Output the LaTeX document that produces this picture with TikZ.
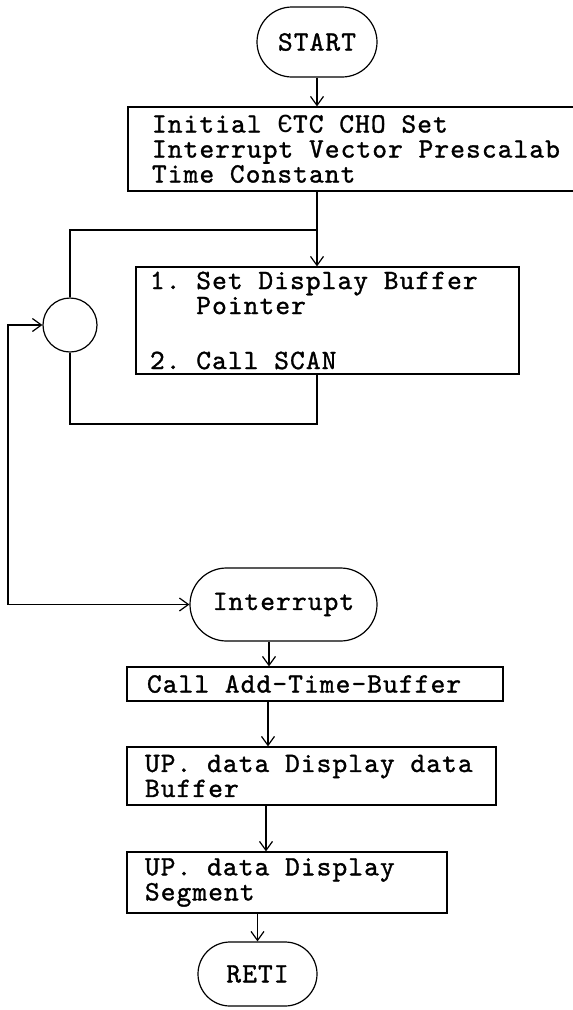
\documentclass[tikz,border=0pt]{standalone}
\usepackage{fontspec}
\newfontfamily\tw{Liberation Mono}
\newfontfamily\lmtw{lmmono10-regular.otf}[LetterSpace=4,FakeBold=1.2]
\newcommand{\typew}{\fontsize{28}{25}\selectfont\lmtw}
\newcommand{\sk}{\spaceskip=15.8pt plus 0pt minus 0pt\xspaceskip=15.8pt plus 0pt minus 0pt\relax}
\newcommand{\txl}[1]{\mbox{\sk #1}}
\usetikzlibrary{arrows.meta,shapes.misc}
\begin{document}
\begin{tikzpicture}[x=1pt,y=-1pt,
  line width=1.2pt,
  tip/.tip={Straight Barb[length=9pt,width=13pt,line width=1.2pt]},
  arr/.style={-tip},
  term/.style={draw, rounded rectangle, inner sep=0pt, font=\typew},
  proc/.style={draw, rectangle, align=left, inner ysep=0pt, font=\typew},
  joint/.style={draw, circle, minimum size=54pt, inner sep=0pt}
]
\useasboundingbox (0,0) rectangle (573,1010);

\node[term, minimum width=120pt, minimum height=70pt] (start) at (317,42) {START};
\node[proc, minimum width=472pt, minimum height=84pt, text width=424pt, inner xsep=24pt] (b1) at (364,149)
  {\txl{Initial {\tw\fontsize{26}{25}\selectfont Є}TC CHO Set}\\\txl{Interrupt Vector Prescalab}\\\txl{Time Constant}};
\node[proc, minimum width=383pt, minimum height=107pt, text width=355pt, inner xsep=14pt] (b2) at (327.5,320.5)
  {\txl{1. Set Display Buffer}\\\txl{\phantom{1. }Pointer}\\[30pt]\txl{2. Call SCAN}};
\node[joint] (c) at (70,325) {};
\node[term, minimum width=187pt, minimum height=73pt] (intr) at (283.5,604.5) {Interrupt};
\node[proc, minimum width=376pt, minimum height=34pt, text width=336pt, inner xsep=20pt] (b3) at (315,684)
  {\txl{Call Add-Time-Buffer}};
\node[proc, minimum width=369pt, minimum height=58pt, text width=333pt, inner xsep=18pt] (b4) at (311.5,776)
  {\txl{UP. data Display data}\\\txl{Buffer}};
\node[proc, minimum width=320pt, minimum height=61pt, text width=284pt, inner xsep=18pt] (b5) at (287,882.5)
  {\txl{UP. data Display}\\\txl{Segment}};
\node[term, minimum width=119pt, minimum height=64pt] (reti) at (257.5,974) {RETI};

\coordinate (j) at (317,230);
\coordinate (lb) at (317,424);
\coordinate (ol) at (8,325);
\coordinate (a1) at (269,0);
\coordinate (a2) at (268,0);
\coordinate (a3) at (266,0);

\draw[arr] (start.south) -- (start |- b1.north);
\draw[arr] (start |- b1.south) -- (start |- b2.north);
\draw (c.north) |- (j);
\draw (start |- b2.south) -- (lb) -| (c.south);
\draw[tip-tip] (c.west) -- (ol) |- (intr.west);
\draw[arr] (a1 |- intr.south) -- (a1 |- b3.north);
\draw[arr] (a2 |- b3.south) -- (a2 |- b4.north);
\draw[arr] (a3 |- b4.south) -- (a3 |- b5.north);
\draw[arr] (reti |- b5.south) -- (reti.north);
\end{tikzpicture}
\end{document}
